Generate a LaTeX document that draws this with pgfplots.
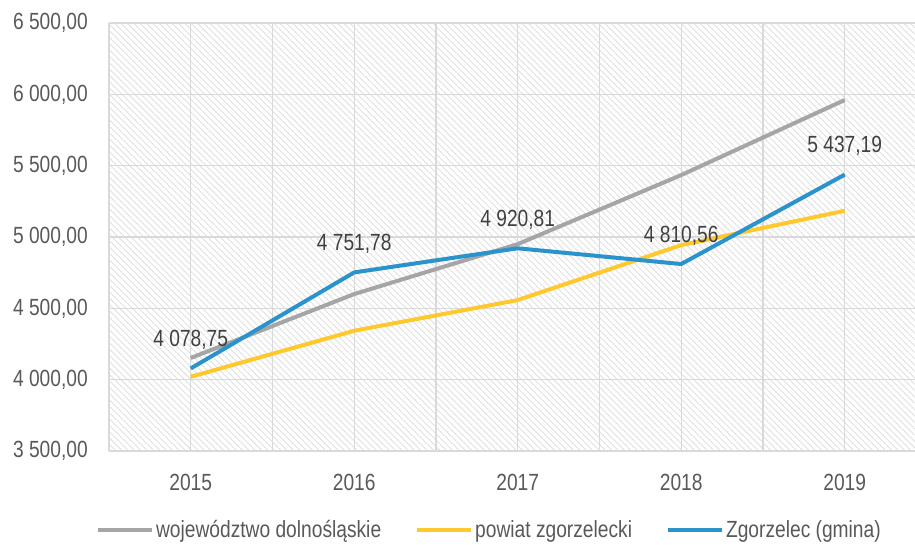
\documentclass[border=0pt]{standalone}
\usepackage{fontspec}
\setmainfont{Liberation Sans}[FakeStretch=0.82]
\usepackage{pgfplots}
\pgfplotsset{compat=1.18}
\usetikzlibrary{patterns.meta}
\definecolor{cgray}{HTML}{A5A5A5}
\definecolor{cyellow}{HTML}{FFC82C}
\definecolor{cblue}{HTML}{2B93CC}
\definecolor{ctext}{HTML}{595959}
\definecolor{clabel}{HTML}{404040}
\definecolor{cgrid}{HTML}{D9D9D9}
\newcommand{\bigfont}{\fontsize{23.5}{28}\selectfont}
\begin{document}
\begin{tikzpicture}
\path[use as bounding box] (0,0) rectangle (915bp,545bp);
\begin{axis}[
  at={(109bp,94bp)}, anchor=south west,
  scale only axis, width=806bp, height=428bp,
  xmin=2014.5, xmax=2019.43, ymin=3500, ymax=6500,
  axis background/.style={pattern={Lines[angle=-45,distance=4.5bp,line width=0.9bp]}, pattern color=black!12},
  axis line style={draw=none},
  major tick length=0pt, minor tick length=0pt,
  xtick={2015,2016,2017,2018,2019},
  xticklabels={2015,2016,2017,2018,2019},
  minor xtick={2014.5,2015.5,2016.5,2017.5,2018.5,2019.5},
  ytick={3500,4000,4500,5000,5500,6000,6500},
  xmajorgrids, xminorgrids, ymajorgrids,
  grid style={draw=cgrid, line width=1.2bp},
  minor grid style={draw=cgrid, line width=1.2bp},
  scaled y ticks=false,
  /pgf/number format/.cd, fixed, fixed zerofill, precision=2, use comma, 1000 sep={\ }, assume math mode=true,
  /pgfplots/.cd,
  tick label style={font=\bigfont, text=ctext},
  yticklabel style={anchor=east, inner sep=0pt, xshift=-21bp},
  xticklabel style={anchor=center, inner sep=0pt, yshift=-31bp},
  legend style={at={(0.472,-0.1846)}, anchor=center, draw=none, fill=none,
    font=\bigfont, text=ctext, legend columns=3,
    /tikz/every even column/.append style={column sep=32bp}},
  legend image code/.code={\draw[#1, line width=4bp] (0bp,0bp) -- (54bp,0bp);},
  every axis plot/.append style={line width=4bp, line join=round},
]
\addplot[cgray, no markers] coordinates {(2015,4152) (2016,4600) (2017,4950) (2018,5434) (2019,5960)};
\addlegendentry{województwo dolnośląskie}
\addplot[cyellow, no markers] coordinates {(2015,4020) (2016,4343) (2017,4558) (2018,4943) (2019,5184)};
\addlegendentry{powiat zgorzelecki}
\addplot[cblue, no markers, nodes near coords, point meta=explicit symbolic,
  every node near coord/.append style={anchor=base, yshift=22bp, font=\bigfont, text=clabel}]
  coordinates {(2015,4078.75) [4 078,75] (2016,4751.78) [4 751,78] (2017,4920.81) [4 920,81] (2018,4810.56) [4 810,56] (2019,5437.19) [5 437,19]};
\addlegendentry{Zgorzelec (gmina)}
\end{axis}
\end{tikzpicture}
\end{document}
